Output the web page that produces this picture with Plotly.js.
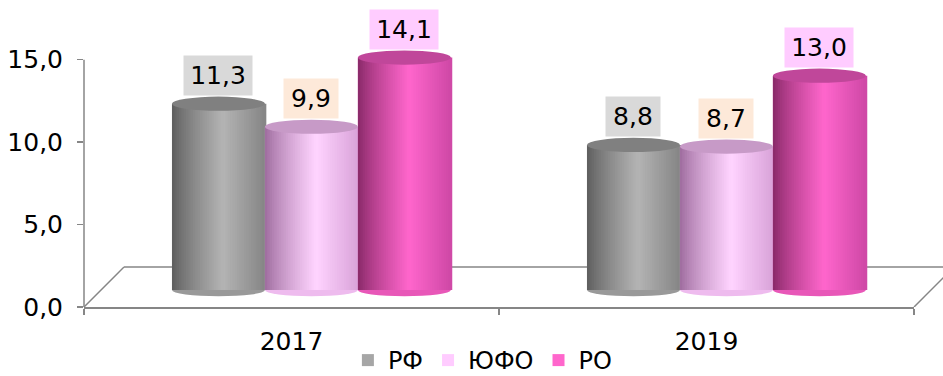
<!DOCTYPE html>
<html><head><meta charset="utf-8">
<script src="https://cdn.plot.ly/plotly-3.0.1.min.js"></script>
<style>html,body{margin:0;padding:0;background:#fff}#chart{width:943px;height:376px}</style>
</head><body><div id="chart"></div>
<script>
// ---- data ----
const years = ['2017', '2019'];
const seriesNames = ['РФ', 'ЮФО', 'РО'];
const rf = [11.3, 8.8];
const yufo = [9.9, 8.7];
const ro = [14.1, 13.0];
const yTickVals = [0, 5, 10, 15];

// ---- styles ----
const seriesValues = [rf, yufo, ro];
const legendColors = ['#a6a6a6', '#ffccff', '#ff66cc'];
const shadeStops = [
  ['#5c5c5c', '#b4b4b4', '#858585'],
  ['#9c6a9c', '#ffd4ff', '#d9a3d9'],
  ['#862866', '#ff66cc', '#cf48a6']
];
const capColors = ['#808080', '#c79ac7', '#c0479a'];
const bottomColors = ['#999999', '#eebbee', '#e857b8'];
const labelBg = ['#d9d9d9', '#fde9d9', '#ffccff'];
const FONT = 'DejaVu Sans, Liberation Sans, Arial, sans-serif';

const barW = 0.224;       // in category units
const depthShift = 0.048; // 3D depth shift in category units
const nStripes = 40;
const yMax = 18.5;        // plot area extends above the 15 tick so labels fit
const pxPerUnit = 305 / yMax;
const baseLift = 17 / pxPerUnit; // bars stand on the middle of the 3D floor

function hex2rgb(h){ h=h.replace('#',''); return [0,2,4].map(i=>parseInt(h.substr(i,2),16)); }
function mix(a,b,t){ const A=hex2rgb(a),B=hex2rgb(b); return 'rgb('+A.map((v,i)=>Math.round(v+(B[i]-v)*t)).join(',')+')'; }
function shade(stops,t){ const p=0.55; return t<p ? mix(stops[0],stops[1],Math.pow(t/p,0.8)) : mix(stops[1],stops[2],(t-p)/(1-p)); }

const traces = [];
const shapes = [];
const annotations = [];

// anchor trace so the main x/y axes exist
traces.push({type:'scatter', x:years, y:[0,0], xaxis:'x', yaxis:'y', mode:'markers',
  marker:{opacity:0, size:1}, showlegend:false, hoverinfo:'skip'});

// floor lines (decorative 3D floor) and y axis line
const lineCol = '#868686';
const backY = 40/247*15, backX = 40/830;
shapes.push({type:'line', xref:'paper', yref:'y', x0:0, y0:0, x1:0, y1:15, line:{color:lineCol, width:1.5}, layer:'below'});
shapes.push({type:'line', xref:'paper', yref:'y', x0:backX, y0:backY, x1:1.1, y1:backY, line:{color:lineCol, width:1.5}, layer:'below'});
shapes.push({type:'line', xref:'paper', yref:'y', x0:0, y0:0, x1:backX, y1:backY, line:{color:lineCol, width:1.5}, layer:'below'});
shapes.push({type:'line', xref:'paper', yref:'y', x0:1, y0:0, x1:1+backX, y1:backY, line:{color:lineCol, width:1.5}, layer:'below'});

seriesNames.forEach((name, s) => {
  const vals = seriesValues[s];
  const off = depthShift + (s - 1.5) * barW;
  traces.push({type:'bar', name:name, x:years, y:vals, xaxis:'x', yaxis:'y2',
    width:barW, offset:off, marker:{color:legendColors[s], line:{width:0}},
    hoverinfo:'skip', showlegend:true, legendgroup:name});
  const sw = barW / nStripes;
  for (let k = 0; k < nStripes; k++) {
    traces.push({type:'bar', name:name, x:years, y:vals, xaxis:'x', yaxis:'y2',
      width:sw*1.6, offset:off + k*sw, marker:{color:shade(shadeStops[s], (k+0.5)/nStripes), line:{width:0}},
      hoverinfo:'skip', showlegend:false, legendgroup:name});
  }
  vals.forEach((v, i) => {
    const cx = i + off + barW/2;
    shapes.push({type:'circle', xref:'x', yref:'y2', x0:cx-barW/2, x1:cx+barW/2, y0:-0.38, y1:0.38,
      fillcolor:bottomColors[s], line:{width:0}, layer:'below'});
    shapes.push({type:'circle', xref:'x', yref:'y2', x0:cx-barW/2, x1:cx+barW/2, y0:v-0.43, y1:v+0.43,
      fillcolor:capColors[s], line:{width:0}, layer:'above'});
    const txt = v.toFixed(1).replace('.', ',');
    annotations.push({xref:'x', yref:'y2', x:cx, y:v, text:txt, showarrow:false, yshift:28,
      font:{family:FONT, size:25, color:'#000'}, bgcolor:labelBg[s], borderpad:4,
      width: txt.length === 4 ? 60 : 46, height:31});
  });
});

const layout = {
  width:943, height:376,
  margin:{l:84, r:29, t:2, b:69, autoexpand:false},
  paper_bgcolor:'#ffffff', plot_bgcolor:'rgba(0,0,0,0)',
  separators:', ',
  font:{family:FONT, size:25, color:'#000'},
  barmode:'overlay',
  showlegend:true,
  xaxis:{type:'category', categoryarray:years, categoryorder:'array', range:[-0.5, 1.5],
    showline:true, linecolor:lineCol, linewidth:1.5, ticks:'outside', tickson:'boundaries',
    ticklen:6, tickcolor:lineCol, tickwidth:1.5, showgrid:false, zeroline:false,
    ticklabelstandoff:11, fixedrange:true, tickfont:{family:FONT, size:25, color:'#000'}},
  yaxis:{range:[0, yMax], tickvals:yTickVals, tickformat:'.1f',
    showline:false, ticks:'outside', ticklen:6,
    tickcolor:lineCol, tickwidth:1.5, showgrid:false, zeroline:false,
    ticklabelstandoff:9, fixedrange:true, tickfont:{family:FONT, size:25, color:'#000'}},
  yaxis2:{overlaying:'y', range:[-baseLift, yMax-baseLift], visible:false, fixedrange:true},
  legend:{orientation:'h', x:0.48, xanchor:'center', y:-76/305, yanchor:'bottom',
    font:{family:FONT, size:24, color:'#000'}, itemwidth:30, traceorder:'normal',
    bgcolor:'rgba(0,0,0,0)', borderwidth:0},
  shapes:shapes,
  annotations:annotations
};

Plotly.newPlot('chart', traces, layout, {displayModeBar:false, staticPlot:true});
</script>
</body></html>
